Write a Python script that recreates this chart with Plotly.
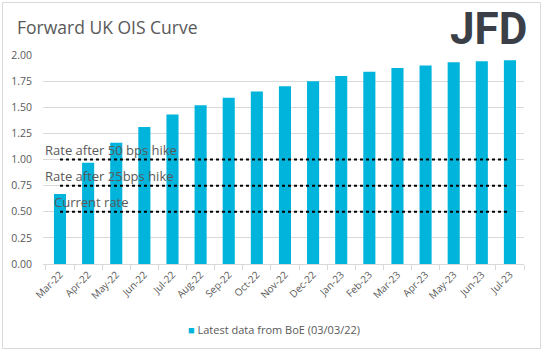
import plotly.graph_objects as go

months = ["Mar-22", "Apr-22", "May-22", "Jun-22", "Jul-22", "Aug-22", "Sep-22", "Oct-22",
          "Nov-22", "Dec-22", "Jan-23", "Feb-23", "Mar-23", "Apr-23", "May-23", "Jun-23", "Jul-23"]
rates = [0.67, 0.97, 1.16, 1.31, 1.43, 1.52, 1.59, 1.65, 1.70, 1.75, 1.80, 1.84, 1.875, 1.90, 1.93, 1.94, 1.95]
ref_names = ["Current rate", "Rate after 25bps hike", "Rate after 50 bps hike"]
ref_levels = [0.50, 0.75, 1.00]
y_ticks = [0.0, 0.25, 0.5, 0.75, 1.0, 1.25, 1.5, 1.75, 2.0]
series_name = "Latest data from BoE (03/03/22)"
bar_color = "#00B4DC"

W, H = 543, 351
L, R, T, B = 43, 19, 55, 87
pw, ph = W - L - R, H - T - B


def px(x):
    return (x - L) / pw


def py(y):
    return (H - B - y) / ph


fig = go.Figure()
fig.add_trace(go.Bar(x=months, y=rates, name=series_name, showlegend=False,
                     marker=dict(color=bar_color, line=dict(width=0))))
for nm, lv in zip(ref_names, ref_levels):
    fig.add_trace(go.Scatter(x=months, y=[lv] * len(months), mode="lines", name=nm,
                             showlegend=False, line=dict(color="black", width=2, dash="dot")))

xshifts = [-8, -17, -17]
for nm, lv, xs in zip(ref_names, ref_levels, xshifts):
    fig.add_annotation(x=months[0], y=lv, text=nm, showarrow=False, xanchor="left",
                       yanchor="middle", xshift=xs, yshift=10,
                       font=dict(family="Open Sans", size=13, color="#595959"))

fig.add_annotation(xref="paper", yref="paper", x=px(15), y=py(27),
                   text="Forward UK OIS Curve", showarrow=False, xanchor="left", yanchor="middle",
                   font=dict(family="Open Sans", size=17.5, color="#595959"))
fig.add_annotation(xref="paper", yref="paper", x=px(529), y=py(29),
                   text="<b>JFD</b>", showarrow=False, xanchor="right", yanchor="middle",
                   font=dict(family="Roboto", size=44, color="#3b4048"))
fig.add_annotation(xref="paper", yref="paper", x=px(186), y=py(329),
                   text=f"<span style='color:{bar_color}'>■</span> {series_name}",
                   showarrow=False, xanchor="left", yanchor="middle",
                   font=dict(family="Open Sans", size=11, color="#595959"))

fig.add_shape(type="rect", xref="paper", yref="paper",
              x0=px(2.5), x1=px(540.5), y0=py(348.5), y1=py(2.5),
              line=dict(color="#d9d9d9", width=1), fillcolor="rgba(0,0,0,0)", layer="below")

fig.update_layout(
    width=W, height=H, margin=dict(l=L, r=R, t=T, b=B, autoexpand=False),
    plot_bgcolor="white", paper_bgcolor="white",
    bargap=0.57,
    showlegend=False,
    xaxis=dict(tickangle=-45, tickfont=dict(family="Open Sans", size=10, color="#595959"),
               showline=True, linecolor="#d9d9d9", ticks="outside", tickson="boundaries",
               ticklen=5, tickcolor="#d9d9d9", showgrid=False, automargin=False),
    yaxis=dict(range=[0, 2.0], tickvals=y_ticks, tickformat=".2f",
               tickfont=dict(family="Open Sans", size=10.5, color="#595959"),
               ticklabelstandoff=10, automargin=False,
               showgrid=True, gridcolor="#d9d9d9", zeroline=False, ticks="", showline=False),
)
fig.write_html("out.html")
